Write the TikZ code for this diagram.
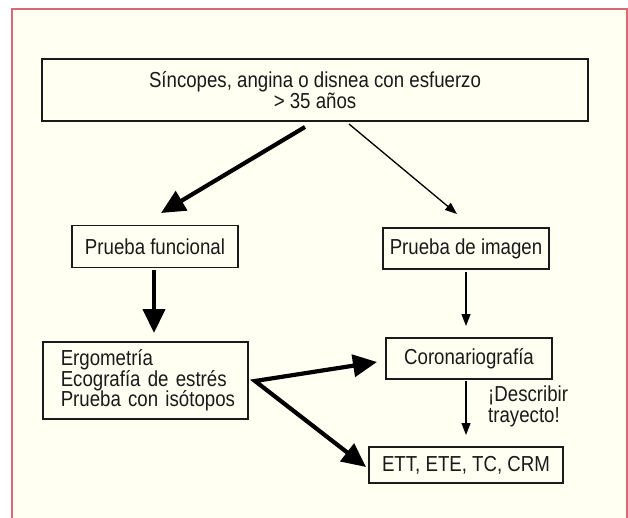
\documentclass[tikz,border=0pt]{standalone}
\usepackage{fontspec}
\setmainfont{Liberation Sans}[FakeStretch=0.86]
\usetikzlibrary{arrows.meta}
\definecolor{framepink}{HTML}{D66B75}
\definecolor{cream}{HTML}{FFFFF2}
\definecolor{ink}{HTML}{1A1A1A}
\begin{document}
\begin{tikzpicture}[x=1pt,y=-1pt,
  box/.style={draw=ink,line width=1.5pt,rectangle,inner sep=0pt,fill=cream,text=ink,
    font=\fontsize{21.7}{20.5}\selectfont,align=center},
  thickarrow/.style={draw=black,line width=4.2pt,line join=miter,
    -{Triangle[length=24pt,width=22pt]}},
  thinarrow/.style={draw=black,line width=1.3pt,
    -{Triangle[length=12pt,width=9pt]}},
  lbl/.style={text=ink,font=\fontsize{21.7}{20.5}\selectfont,inner sep=0pt}]
\useasboundingbox (0,0) rectangle (628,518);
\fill[white] (0,0) rectangle (628,518);
\filldraw[fill=cream,draw=framepink,line width=1.8pt] (12,8.7) rectangle (627,540);

\node[box,minimum width=546pt,minimum height=62pt] (top) at (315,90)
  {Síncopes, angina o disnea con esfuerzo\\> 35 años};
\node[box,minimum width=166pt,minimum height=42pt] (func) at (155,246.5) {Prueba funcional};
\node[box,minimum width=166pt,minimum height=41pt] (img) at (466,248.5) {Prueba de imagen};
\node[box,minimum width=205pt,minimum height=77pt,align=left,anchor=west,text width=205pt] (ergo) at (42,380.5)
  {\hspace*{18pt}Ergometría\\\hspace*{18pt}Ecografía de estrés\\\hspace*{18pt}Prueba con isótopos};
\node[box,minimum width=166pt,minimum height=41pt] (coro) at (469,358.5) {Coronariografía};
\node[box,minimum width=194pt,minimum height=36pt] (ett) at (466,465) {ETT, ETE, TC, CRM};

\node[lbl,anchor=west,align=left] (desc) at (488,406.5) {¡Describir\\trayecto!};

% connector end points
\coordinate (a1s) at (305,127);
\coordinate (a1e) at (161,213);
\coordinate (a2s) at (349,124);
\coordinate (a2e) at (457,214);
\coordinate (a3s) at (154,270);
\coordinate (a3e) at (154,333);
\coordinate (a4s) at (466,272);
\coordinate (a4e) at (466,326);
\coordinate (j) at (255,381);
\coordinate (a5e) at (377,362);
\coordinate (a6e) at (366,467);
\coordinate (a7s) at (466,381);
\coordinate (a7e) at (466,435);

\draw[thickarrow] (a1s) -- (a1e);
\draw[thinarrow] (a2s) -- (a2e);
\draw[thickarrow] (a3s) -- (a3e);
\draw[thinarrow] (a4s) -- (a4e);
\draw[draw=black,line width=4.2pt,line join=miter,
  {Triangle[length=24pt,width=22pt]}-{Triangle[length=24pt,width=22pt]}] (a5e) -- (j) -- (a6e);
\draw[thinarrow] (a7s) -- (a7e);
\end{tikzpicture}
\end{document}
